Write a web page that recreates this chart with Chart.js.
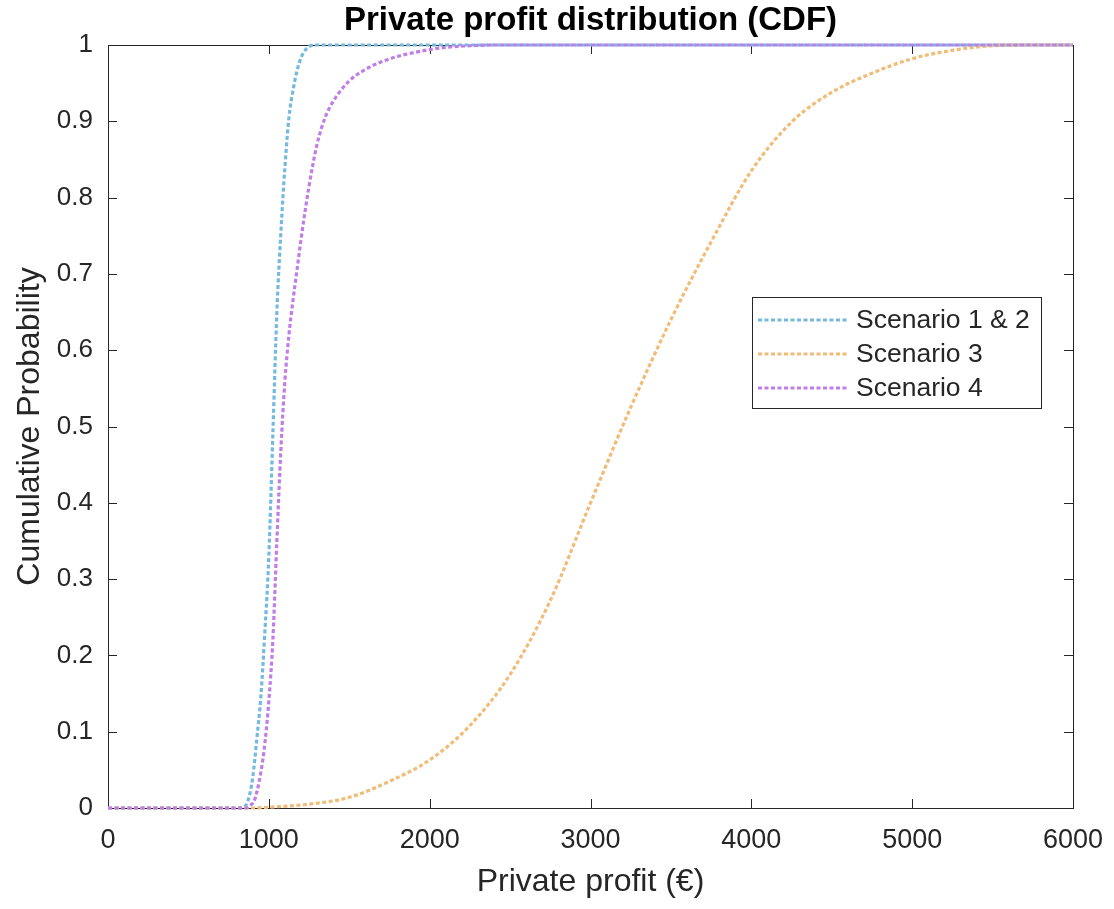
<!DOCTYPE html>
<html>
<head>
<meta charset="utf-8">
<title>Private profit distribution (CDF)</title>
<script src="https://cdn.jsdelivr.net/npm/chart.js@4.4.1/dist/chart.umd.min.js"></script>
<style>
  html, body { margin: 0; padding: 0; background: #ffffff; }
  #wrap { width: 1114px; height: 909px; }
</style>
</head>
<body>
<div id="wrap"><canvas id="cdf" width="1114" height="909"></canvas></div>
<script>
// Private profit (€) sample points and cumulative probabilities, per scenario
const s12Profit = [0, 800, 850, 875, 900, 925, 950, 975, 1000, 1025, 1050, 1075, 1100, 1125, 1150, 1175, 1200, 1225, 1250, 1280, 6000];
const s12Prob   = [0, 0, 0.002, 0.013, 0.04, 0.09, 0.145, 0.23, 0.33, 0.49, 0.65, 0.755, 0.84, 0.905, 0.94, 0.966, 0.983, 0.993, 0.998, 1, 1];

const s3Profit = [0, 900, 1000, 1250, 1500, 1750, 2000, 2250, 2500, 2750, 3000, 3250, 3500, 3750, 4000, 4250, 4500, 4750, 5000, 5250, 5500, 5750, 6000];
const s3Prob   = [0, 0, 0.001, 0.005, 0.014, 0.035, 0.063, 0.108, 0.175, 0.272, 0.40, 0.525, 0.64, 0.742, 0.835, 0.899, 0.938, 0.963, 0.982, 0.993, 0.999, 1, 1];

const s4Profit = [0, 860, 880, 910, 940, 970, 1000, 1025, 1050, 1075, 1100, 1125, 1150, 1175, 1200, 1250, 1300, 1350, 1400, 1500, 1600, 1700, 1800, 1900, 2000, 2100, 2250, 2400, 6000];
const s4Prob   = [0, 0, 0.003, 0.01, 0.035, 0.075, 0.14, 0.22, 0.35, 0.47, 0.56, 0.62, 0.665, 0.705, 0.745, 0.815, 0.87, 0.905, 0.926, 0.953, 0.968, 0.978, 0.985, 0.99, 0.994, 0.997, 0.999, 1, 1];

const seriesNames = ['Scenario 1 & 2', 'Scenario 3', 'Scenario 4'];
const xTickValues = [0, 1000, 2000, 3000, 4000, 5000, 6000];
const xTickLabels = ['0', '1000', '2000', '3000', '4000', '5000', '6000'];
const yTickValues = [0, 0.1, 0.2, 0.3, 0.4, 0.5, 0.6, 0.7, 0.8, 0.9, 1];
const yTickLabels = ['0', '0.1', '0.2', '0.3', '0.4', '0.5', '0.6', '0.7', '0.8', '0.9', '1'];
const chartTitle = 'Private profit distribution (CDF)';

const INK = '#262626';
const FONT = "'Liberation Sans', Arial, Helvetica, sans-serif";

function toPoints(xs, ys) {
  return xs.map((x, i) => ({ x: x, y: ys[i] }));
}

function lineSet(label, xs, ys, color, order) {
  return {
    label: label,
    data: toPoints(xs, ys),
    borderColor: color,
    backgroundColor: color,
    borderWidth: 3.2,
    borderDash: [4, 2.5],
    pointRadius: 0,
    fill: false,
    cubicInterpolationMode: 'monotone',
    clip: 6,
    order: order
  };
}

// Title centred over the plot box
const plotTitle = {
  id: 'plotTitle',
  afterDraw(chart) {
    const { ctx, chartArea: a } = chart;
    ctx.save();
    ctx.fillStyle = '#000000';
    ctx.font = 'bold 33px ' + FONT;
    ctx.textAlign = 'center';
    ctx.textBaseline = 'middle';
    ctx.fillText(chartTitle, (a.left + a.right) / 2, 21);
    ctx.restore();
  }
};

// Box outline and inward tick marks on all four sides
const axesBox = {
  id: 'axesBox',
  beforeDatasetsDraw(chart) {
    const { ctx, chartArea: a, scales } = chart;
    const len = 9;
    ctx.save();
    ctx.strokeStyle = INK;
    ctx.lineWidth = 1;
    ctx.beginPath();
    xTickValues.forEach(v => {
      const px = Math.round(scales.x.getPixelForValue(v)) + 0.5;
      ctx.moveTo(px, a.bottom); ctx.lineTo(px, a.bottom - len);
      ctx.moveTo(px, a.top); ctx.lineTo(px, a.top + len);
    });
    yTickValues.forEach(v => {
      const py = Math.round(scales.y.getPixelForValue(v)) + 0.5;
      ctx.moveTo(a.left, py); ctx.lineTo(a.left + len, py);
      ctx.moveTo(a.right, py); ctx.lineTo(a.right - len, py);
    });
    ctx.stroke();
    ctx.strokeRect(Math.round(a.left) + 0.5, Math.round(a.top) + 0.5,
                   Math.round(a.right - a.left), Math.round(a.bottom - a.top));
    ctx.restore();
  }
};

// Boxed legend inside the plot, entries taken from the datasets
const boxLegend = {
  id: 'boxLegend',
  afterDatasetsDraw(chart) {
    const { ctx } = chart;
    const box = { x: 752, y: 297, w: 289, h: 111 };
    const rowY = [320, 354, 388];
    ctx.save();
    ctx.fillStyle = '#ffffff';
    ctx.fillRect(box.x, box.y, box.w, box.h);
    ctx.strokeStyle = INK;
    ctx.lineWidth = 1;
    ctx.strokeRect(box.x + 0.5, box.y + 0.5, box.w, box.h);
    chart.data.datasets.forEach((ds, i) => {
      const y = rowY[i];
      ctx.beginPath();
      ctx.setLineDash(ds.borderDash);
      ctx.strokeStyle = ds.borderColor;
      ctx.lineWidth = ds.borderWidth;
      ctx.moveTo(758, y);
      ctx.lineTo(847, y);
      ctx.stroke();
      ctx.setLineDash([]);
      ctx.fillStyle = INK;
      ctx.font = '26.5px ' + FONT;
      ctx.textAlign = 'left';
      ctx.textBaseline = 'middle';
      ctx.fillText(ds.label, 856, y + 1);
    });
    ctx.restore();
  }
};

new Chart(document.getElementById('cdf'), {
  type: 'line',
  data: {
    datasets: [
      lineSet(seriesNames[0], s12Profit, s12Prob, '#74b9e0', 2),
      lineSet(seriesNames[1], s3Profit, s3Prob, '#f0bd78', 1),
      lineSet(seriesNames[2], s4Profit, s4Prob, '#c17de6', 0)
    ]
  },
  options: {
    responsive: false,
    animation: false,
    layout: { padding: { left: 0, right: 41, top: 45, bottom: 0 } },
    plugins: {
      legend: { display: false },
      tooltip: { enabled: false },
      title: { display: false }
    },
    scales: {
      x: {
        type: 'linear',
        min: 0,
        max: 6000,
        afterBuildTicks(scale) { scale.ticks = xTickValues.map(v => ({ value: v })); },
        afterFit(scale) {
          scale.height = 101;
          scale.paddingLeft = 0;
          scale.paddingRight = 0;
        },
        grid: { display: false, drawTicks: false },
        border: { display: false },
        ticks: {
          color: INK,
          font: { family: FONT, size: 27 },
          padding: 16,
          maxRotation: 0,
          autoSkip: false,
          callback: (v) => xTickLabels[xTickValues.indexOf(v)]
        },
        title: {
          display: true,
          text: 'Private profit (€)',
          color: INK,
          font: { family: FONT, size: 32, lineHeight: 1.2 },
          padding: { top: 0, bottom: 8 }
        }
      },
      y: {
        type: 'linear',
        min: 0,
        max: 1,
        afterBuildTicks(scale) { scale.ticks = yTickValues.map(v => ({ value: v })); },
        afterFit(scale) {
          scale.width = 108;
          scale.paddingTop = 0;
          scale.paddingBottom = 0;
        },
        grid: { display: false, drawTicks: false },
        border: { display: false },
        ticks: {
          color: INK,
          font: { family: FONT, size: 26 },
          padding: 15,
          autoSkip: false,
          callback: (v) => yTickLabels[yTickValues.findIndex(t => Math.abs(t - v) < 1e-9)]
        },
        title: {
          display: true,
          text: 'Cumulative Probability',
          color: INK,
          font: { family: FONT, size: 32, lineHeight: 1.2 },
          padding: { top: 11, bottom: 0 }
        }
      }
    }
  },
  plugins: [axesBox, boxLegend, plotTitle]
});
</script>
</body>
</html>
